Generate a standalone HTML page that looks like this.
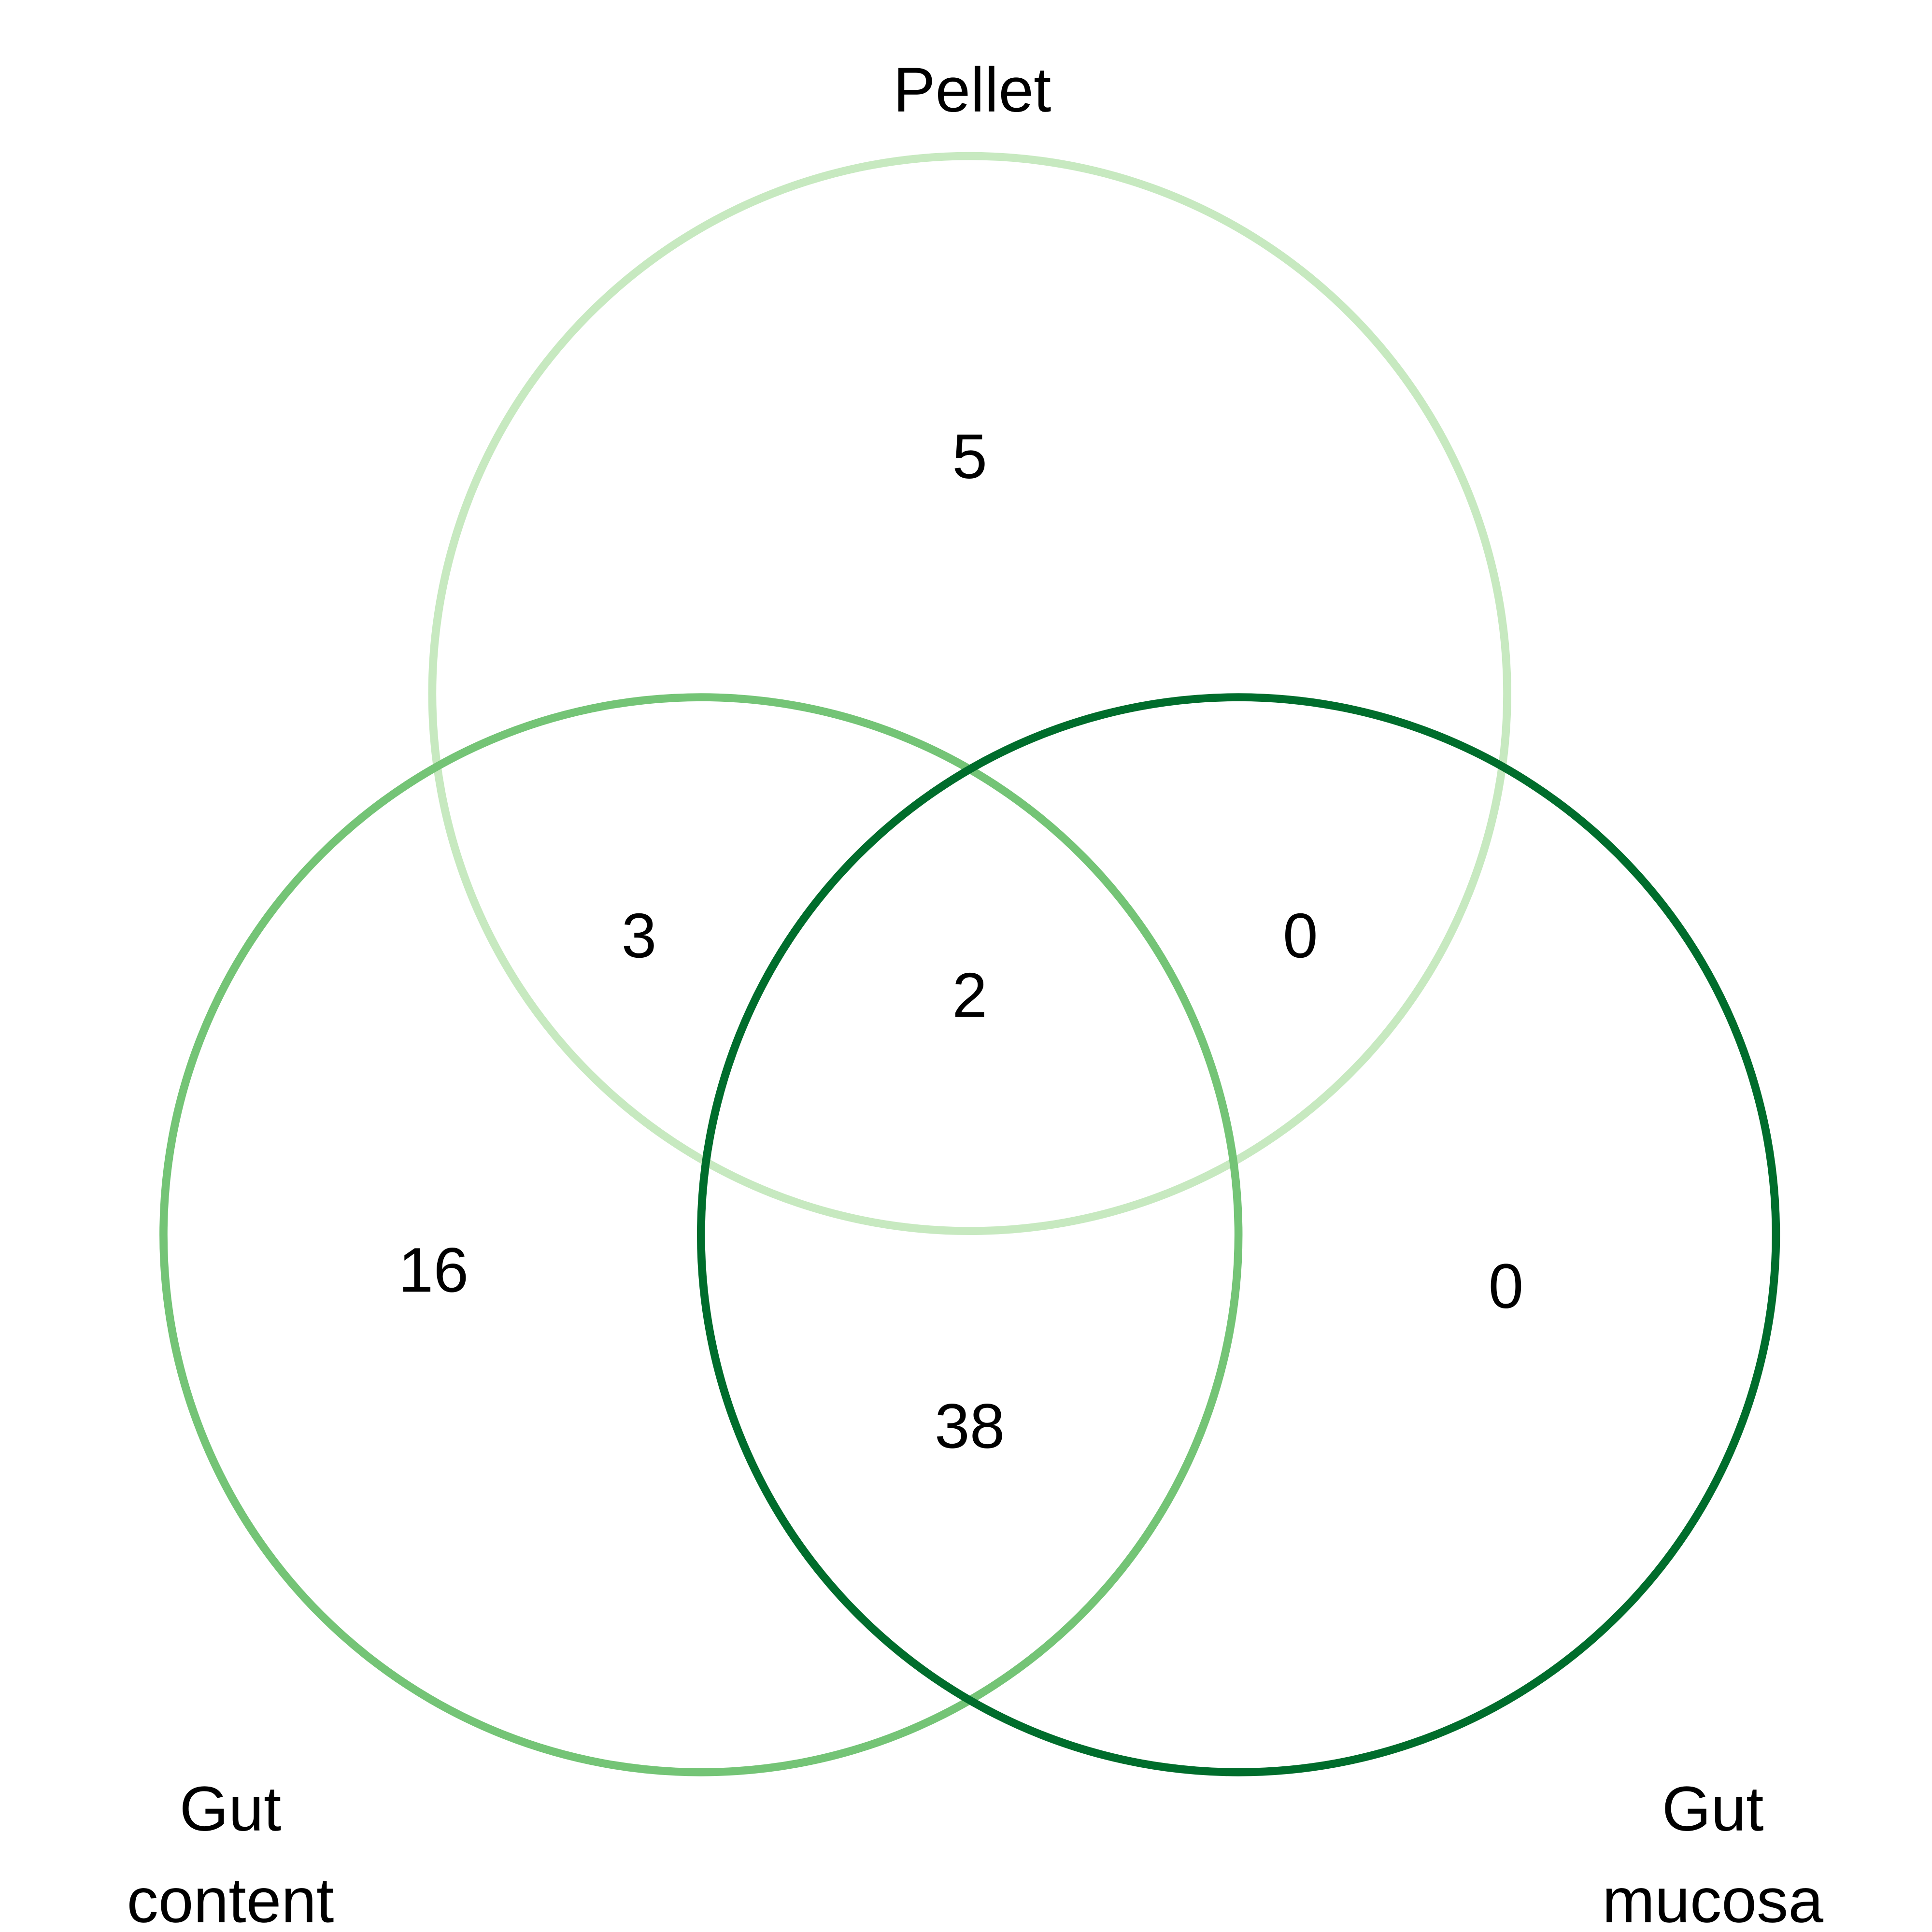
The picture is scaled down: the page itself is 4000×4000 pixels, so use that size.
<!DOCTYPE html>
<html><head><meta charset="utf-8"><style>
html,body{margin:0;padding:0;background:#fff;width:4000px;height:4000px;overflow:hidden}
svg{display:block}
text{font-family:"Liberation Sans",Arial,sans-serif;fill:#000}
</style></head><body>
<svg id="venn" width="4000" height="4000" viewBox="0 0 1560 1560" xmlns="http://www.w3.org/2000/svg"></svg>
<script>
const setNames = ["Pellet", "Gut content", "Gut mucosa"];
const setColors = ["#c7e9c0", "#74c476", "#006d2c"];
const regionNames = ["pellet-only","pellet-content","all-three","pellet-mucosa","content-only","mucosa-only","content-mucosa"];
const regionCounts = [5, 3, 2, 0, 16, 0, 38];

const svg = document.getElementById('venn');
const NS = "http://www.w3.org/2000/svg";
const R = 434;
const centers = [[783,560],[566,997],[1000,997]];
const regionPos = [[783,368],[516,755],[783,803],[1050,755],[350,1025],[1216,1038],[783,1151]];
centers.forEach((c,i)=>{
  const el = document.createElementNS(NS,'circle');
  el.setAttribute('cx',c[0]);el.setAttribute('cy',c[1]);el.setAttribute('r',R);
  el.setAttribute('fill','none');el.setAttribute('stroke',setColors[i]);el.setAttribute('stroke-width',6.5);
  
  
  svg.appendChild(el);
});
regionCounts.forEach((v,i)=>{
  const t = document.createElementNS(NS,'text');
  t.setAttribute('x',regionPos[i][0]);t.setAttribute('y',regionPos[i][1]+18);
  t.setAttribute('text-anchor','middle');t.setAttribute('font-size',51);
  t.textContent = v;
  
  
  svg.appendChild(t);
});
const labelPos = [[[785,90]],[[186,1478],[186,1552]],[[1383,1478],[1383,1552]]];
const labelLines = [["Pellet"],["Gut","content"],["Gut","mucosa"]];
labelLines.forEach((lines,i)=>{
  lines.forEach((s,j)=>{
    const t = document.createElementNS(NS,'text');
    t.setAttribute('x',labelPos[i][j][0]);t.setAttribute('y',labelPos[i][j][1]);
    t.setAttribute('text-anchor','middle');t.setAttribute('font-size',51);
    t.textContent = s;
    
    
    svg.appendChild(t);
  });
});
</script>
</body></html>
